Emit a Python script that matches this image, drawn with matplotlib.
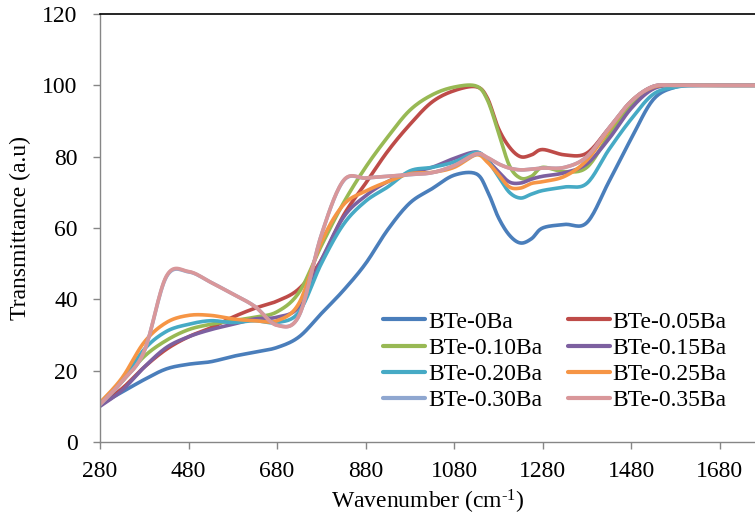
import numpy as np
import matplotlib
matplotlib.use("Agg")
import matplotlib.pyplot as plt

plt.rcParams['font.family'] = ['Liberation Serif', 'DejaVu Serif']
plt.rcParams['mathtext.fontset'] = 'custom'
plt.rcParams['mathtext.rm'] = 'Liberation Serif'
plt.rcParams['mathtext.it'] = 'Liberation Serif:italic'

wavenumber = [280, 330, 380, 430, 480, 530, 580, 630, 680, 730, 780, 830, 880, 930, 980,
              1030, 1080, 1130, 1155, 1180, 1205, 1230, 1255, 1280, 1330, 1380, 1430,
              1480, 1530, 1580, 1630, 1680, 1760]

bte_0 = [10.5, 14.0, 17.5, 20.5, 21.8, 22.5, 24.0, 25.2, 26.5, 29.5, 36.0, 42.5, 50.0, 59.5, 67.0,
         71.0, 74.8, 75.2, 70.5, 63.0, 58.0, 55.8, 57.0, 60.0, 61.0, 61.5, 73.0,
         85.0, 96.0, 99.5, 100, 100, 100]
bte_005 = [10.5, 15.0, 21.0, 26.0, 29.5, 32.0, 35.0, 37.5, 39.5, 43.0, 51.0, 63.5, 72.5, 81.5, 89.0,
           95.3, 98.5, 99.6, 96.5, 88.0, 82.7, 80.0, 80.5, 82.0, 80.5, 81.0, 88.0,
           95.5, 99.7, 100, 100, 100, 100]
bte_010 = [11.0, 17.0, 24.0, 28.5, 31.5, 33.0, 34.0, 35.0, 36.5, 42.0, 55.0, 67.0, 77.0, 85.5, 93.0,
           97.3, 99.5, 99.8, 96.0, 87.0, 77.5, 74.0, 74.5, 77.0, 75.8, 77.0, 86.0,
           94.5, 99.5, 100, 100, 100, 100]
bte_015 = [10.0, 14.5, 21.0, 26.5, 29.5, 31.5, 33.0, 34.5, 35.0, 38.0, 51.0, 63.0, 69.0, 73.0, 75.5,
           77.0, 79.5, 81.3, 79.0, 75.8, 72.9, 72.6, 73.7, 74.5, 75.5, 78.0, 85.0,
           93.5, 99.0, 100, 100, 100, 100]
bte_020 = [10.5, 17.0, 26.0, 31.0, 33.0, 34.0, 33.5, 34.0, 33.5, 36.5, 50.0, 61.0, 67.5, 71.5, 76.0,
           77.0, 78.5, 81.2, 79.0, 74.5, 70.0, 68.4, 69.5, 70.5, 71.5, 72.5, 82.0,
           90.5, 97.5, 99.5, 100, 100, 100]
bte_025 = [11.0, 18.0, 28.0, 33.5, 35.5, 35.5, 34.5, 34.0, 34.0, 39.0, 56.0, 66.5, 70.3, 73.0, 75.2,
           75.6, 77.0, 80.5, 78.5, 75.0, 71.5, 71.2, 72.5, 73.0, 74.5, 79.0, 87.5,
           95.5, 99.5, 100, 100, 100, 100]
bte_030 = [10.5, 17.0, 25.5, 46.3, 47.7, 44.8, 41.5, 38.0, 32.8, 35.5, 58.0, 73.2, 74.0, 74.5, 75.0,
           75.5, 77.5, 80.7, 79.7, 78.0, 76.8, 76.3, 76.5, 76.8, 77.0, 80.0, 88.0,
           95.5, 99.7, 100, 100, 100, 100]
bte_035 = [10.5, 17.0, 25.5, 46.5, 47.8, 44.8, 41.5, 38.0, 32.7, 35.5, 58.0, 73.3, 74.0, 74.5, 75.0,
           75.5, 77.5, 80.8, 79.8, 78.0, 76.8, 76.3, 76.5, 76.8, 77.0, 80.0, 88.0,
           95.5, 99.7, 100, 100, 100, 100]

labels = ['BTe-0Ba', 'BTe-0.05Ba', 'BTe-0.10Ba', 'BTe-0.15Ba',
          'BTe-0.20Ba', 'BTe-0.25Ba', 'BTe-0.30Ba', 'BTe-0.35Ba']
series = [bte_0, bte_005, bte_010, bte_015, bte_020, bte_025, bte_030, bte_035]
colors = ['#4A7EBB', '#BE4B48', '#98B954', '#7D60A0', '#46AAC5', '#F69545', '#8FA7D0', '#D9979A']

x_ticks = [280, 480, 680, 880, 1080, 1280, 1480, 1680]
y_ticks = [0, 20, 40, 60, 80, 100, 120]


def smooth(x, y, n=16):
    """Catmull-Rom smoothing (like a spreadsheet 'smoothed line')."""
    P = np.column_stack([np.asarray(x, float), np.asarray(y, float)])
    out = []
    t = np.linspace(0, 1, n, endpoint=False)[:, None]
    for i in range(len(P) - 1):
        p0 = P[i - 1] if i > 0 else P[i]
        p1, p2 = P[i], P[i + 1]
        p3 = P[i + 2] if i + 2 < len(P) else P[i + 1]
        seg = 0.5 * ((2 * p1) + (-p0 + p2) * t + (2 * p0 - 5 * p1 + 4 * p2 - p3) * t ** 2
                     + (-p0 + 3 * p1 - 3 * p2 + p3) * t ** 3)
        out.append(seg)
    out.append(P[-1:])
    out = np.vstack(out)
    return out[:, 0], out[:, 1]


fig = plt.figure(figsize=(7.55, 5.23), dpi=100)
ax = fig.add_axes([100 / 755, 1 - 442 / 523, 655 / 755, (442 - 14) / 523])

handles = []
for vals, lab, col in zip(series, labels, colors):
    sx, sy = smooth(wavenumber, vals)
    h, = ax.plot(sx, sy, color=col, lw=2.6, label=lab, solid_capstyle='round', solid_joinstyle='round')
    handles.append(h)

ax.set_xlim(280, 1760)
ax.set_ylim(0, 120)
ax.set_xticks(x_ticks)
ax.set_yticks(y_ticks)
ax.tick_params(axis='both', labelsize=17, length=5, width=1.0, color='#868686', direction='out')
ax.tick_params(axis='y', pad=11)
ax.tick_params(axis='x', pad=9)

for s in ['left', 'bottom']:
    ax.spines[s].set_color('#868686')
    ax.spines[s].set_linewidth(1.0)
ax.spines['top'].set_color('black')
ax.spines['top'].set_linewidth(1.2)
ax.spines['right'].set_visible(False)

ax.set_ylabel('Transmittance (a.u)', fontsize=17, labelpad=8)
ax.set_xlabel('Wavenumber (cm$^{\\text{-1}}$)', fontsize=17, labelpad=4)

order = [0, 2, 4, 6, 1, 3, 5, 7]
leg = fig.legend([handles[i] for i in order], [labels[i] for i in order],
                 loc='upper left', bbox_to_anchor=(383 / 755, 1 - 311 / 523), ncol=2,
                 frameon=False, fontsize=17, handlelength=1.8, handletextpad=0.1,
                 columnspacing=1.1, labelspacing=0.2, borderpad=0, borderaxespad=0)
for line in leg.get_lines():
    line.set_linewidth(3)

fig.savefig('out.png', dpi=100)
